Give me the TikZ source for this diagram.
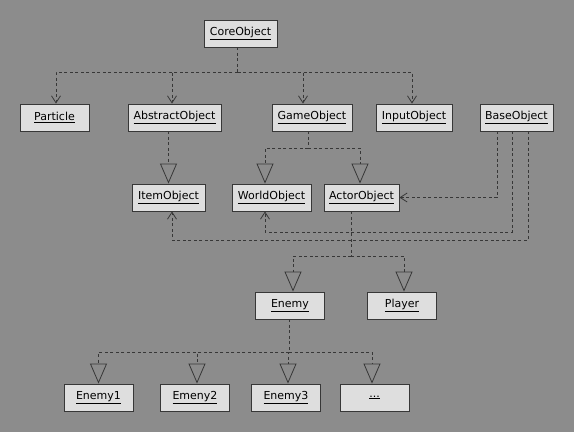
\documentclass[tikz,border=0pt]{standalone}
\usepackage{fontspec}
\setmainfont{DejaVu Sans}
\usetikzlibrary{arrows.meta}
\definecolor{bggray}{RGB}{140,140,140}
\definecolor{boxgray}{RGB}{222,222,222}
\definecolor{edgegray}{RGB}{55,55,55}
\tikzset{
  cls/.style={draw=edgegray,fill=boxgray,line width=0.9pt,minimum width=69pt,
    minimum height=27pt,inner xsep=4pt,font=\fontsize{11}{13}\selectfont},
  uses/.style={draw=edgegray,line width=0.8pt,dash pattern=on 3pt off 2.5pt,
    -{Straight Barb[length=7pt,width=9pt]}},
  impl/.style={draw=edgegray,line width=0.8pt,dash pattern=on 3pt off 2.5pt,
    -{Triangle[open,length=20pt,width=17pt]}},
  link/.style={draw=edgegray,line width=0.8pt,dash pattern=on 3pt off 2.5pt}
}
\begin{document}
\begin{tikzpicture}[x=1pt,y=-1pt]
\fill[bggray] (0,0) rectangle (574,432);
\useasboundingbox (0,0) rectangle (574,432);
\node[cls,minimum width=73pt] (core) at (240.5,33.5) {\underline{CoreObject}};
\node[cls] (particle) at (54.5,117.5) {\underline{Particle}};
\node[cls,minimum width=93pt] (abstract) at (174.5,117.5) {\underline{AbstractObject}};
\node[cls,minimum width=80pt] (game) at (312,117.5) {\underline{GameObject}};
\node[cls,minimum width=76pt] (input) at (414,117.5) {\underline{InputObject}};
\node[cls,minimum width=73pt] (base) at (516.5,117.5) {\underline{BaseObject}};
\node[cls,minimum width=73pt] (item) at (168.5,197.5) {\underline{ItemObject}};
\node[cls,minimum width=79pt] (world) at (271.5,197.5) {\underline{WorldObject}};
\node[cls,minimum width=75pt] (actor) at (361.5,197.5) {\underline{ActorObject}};
\node[cls] (enemy) at (290,305.5) {\underline{Enemy}};
\node[cls] (player) at (402,305.5) {\underline{Player}};
\node[cls] (enemya) at (98.5,397.5) {\underline{Enemy1}};
\node[cls] (enemyb) at (195,397.5) {\underline{Emeny2}};
\node[cls] (enemyc) at (286,397.5) {\underline{Enemy3}};
\node[cls] (more) at (374.5,397.5) {\underline{...}};
% CoreObject
\coordinate (j1) at ([xshift=-3pt]core.south |- 0,72);
\draw[link] ([xshift=-3pt]core.south) -- (j1);
\draw[uses] (j1) -| ([xshift=1.5pt]particle.north);
\draw[uses] (j1) -| ([xshift=-2.5pt]abstract.north);
\draw[uses] (j1) -| ([xshift=-9pt]game.north);
\draw[uses] (j1) -| ([xshift=-2pt]input.north);
\draw[impl] (abstract.south -| item.north) -- (item.north);
% GameObject
\coordinate (j2) at ([xshift=-4pt]game.south |- 0,148);
\draw[link] ([xshift=-4pt]game.south) -- (j2);
\draw[impl] (j2) -| ([xshift=-6.5pt]world.north);
\draw[impl] (j2) -| ([xshift=-1.5pt]actor.north);
% BaseObject
\draw[uses] ([xshift=-19.5pt]base.south) |- (actor.east);
\draw[uses] ([xshift=-4.5pt]base.south) |- (265,232) -- ([xshift=-6.5pt]world.south);
\draw[uses] ([xshift=11.5pt]base.south) |- (172,240) -- ([xshift=3.5pt]item.south);
% ActorObject
\coordinate (j3) at ([xshift=-10.5pt]actor.south |- 0,256);
\draw[link] ([xshift=-10.5pt]actor.south) -- (j3);
\draw[impl] (j3) -| ([xshift=3pt]enemy.north);
\draw[impl] (j3) -| ([xshift=2pt]player.north);
% Enemy
\coordinate (j4) at ([xshift=-1pt]enemy.south |- 0,352);
\draw[link] ([xshift=-1pt]enemy.south) -- (j4);
\draw[impl] (j4) -| (enemya.north);
\draw[impl] (j4) -| ([xshift=2pt]enemyb.north);
\draw[impl] (j4) -| ([xshift=2pt]enemyc.north);
\draw[impl] (j4) -| ([xshift=-2.5pt]more.north);
\end{tikzpicture}
\end{document}
